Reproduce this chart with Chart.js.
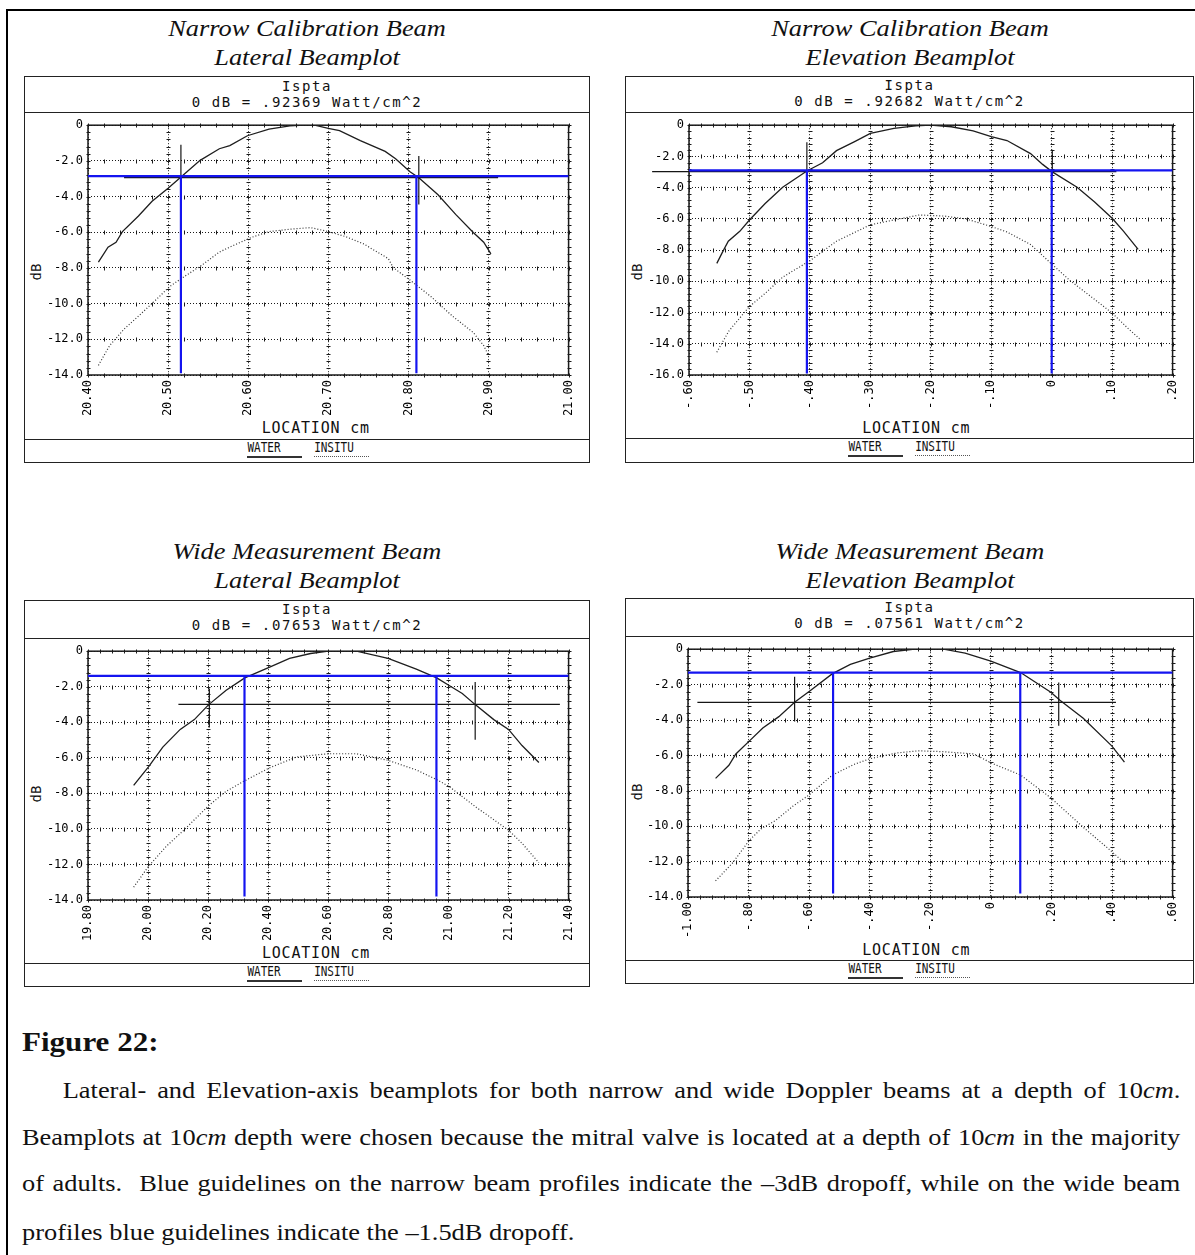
<!DOCTYPE html>
<html lang="en">
<head>
<meta charset="UTF-8">
<title>Figure 22 - Beamplots</title>
<script src="https://cdn.jsdelivr.net/npm/chart.js@4"></script>
<style>
  body { margin: 0; width: 1195px; height: 1255px; background: #fff; position: relative; overflow: hidden;
         font-family: "Liberation Serif", "Times New Roman", serif; color: #111; }
  .frame { position: absolute; left: 6px; top: 9px; width: 1300px; height: 1300px;
           border-left: 2px solid #000; border-top: 2px solid #000; }
  .ptitle { position: absolute; width: 420px; text-align: center; font-style: italic; font-size: 24px; line-height: 29px;
            transform: scaleX(1.1); }
  .box { position: absolute; border: 1.5px solid #222; box-sizing: border-box; }
  .rule { position: absolute; height: 0; border-top: 1.5px solid #222; }
  .mono { position: absolute; font-family: "DejaVu Sans Mono", monospace; white-space: nowrap; text-align: center; }
  .hdr { font-size: 14px; letter-spacing: 1.6px; line-height: 16px; }
  .loc { font-size: 15px; letter-spacing: 0.8px; line-height: 18px; }
  .db { font-size: 14px; line-height: 16px; transform: rotate(-90deg); }
  .leg { font-size: 11px; line-height: 14px; transform: scaleY(1.3); }
  .uline { position: absolute; height: 0; }
  canvas { position: absolute; }
  .cap { position: absolute; left: 22px; width: 1053px; font-size: 24px; line-height: 30px;
         text-align: justify; text-align-last: justify; transform: scaleX(1.1); transform-origin: 0 0; }
  .cap.last { text-align: left; text-align-last: left; }
  .fig { position: absolute; left: 22px; font-weight: bold; font-size: 27px; line-height: 30px;
         transform: scaleX(1.15); transform-origin: 0 0; }
</style>
</head>
<body>
<div class="frame"></div>
<script>
// ---- Narrow beam, lateral ----
const latNarrowWaterX = [20.413, 20.425, 20.435, 20.443, 20.463, 20.480, 20.500, 20.515, 20.540, 20.564, 20.577, 20.599, 20.626, 20.652, 20.670, 20.683, 20.700, 20.714, 20.740, 20.771, 20.784, 20.802, 20.813, 20.837, 20.859, 20.881, 20.894, 20.903];
const latNarrowWaterY = [-7.67, -6.84, -6.56, -5.96, -5.09, -4.26, -3.53, -2.94, -1.97, -1.32, -1.14, -0.59, -0.22, -0.04, 0, 0, -0.18, -0.31, -0.86, -1.47, -1.88, -2.61, -2.94, -3.90, -5.00, -6.01, -6.56, -7.21];
const latNarrowInsituX = [20.413, 20.427, 20.445, 20.463, 20.485, 20.502, 20.520, 20.542, 20.564, 20.581, 20.604, 20.626, 20.652, 20.678, 20.700, 20.722, 20.744, 20.775, 20.781, 20.802, 20.828, 20.855, 20.881, 20.894, 20.900];
const latNarrowInsituY = [-13.46, -12.35, -11.43, -10.70, -9.78, -9.04, -8.49, -7.85, -7.11, -6.75, -6.29, -5.96, -5.83, -5.74, -5.96, -6.25, -6.65, -7.48, -7.98, -8.68, -9.60, -10.70, -11.62, -12.35, -12.90];
const latNarrowTicks = [20.4, 20.5, 20.6, 20.7, 20.8, 20.9, 21.0];
const latNarrowLabels = ['20.40', '20.50', '20.60', '20.70', '20.80', '20.90', '21.00'];
const latNarrowBlue = { level: -2.85, cuts: [20.516, 20.810], bottom: -13.9 };
const latNarrowBlack = { level: -2.94, from: 20.445, to: 20.912, marks: [[20.516, -1.10, -2.94], [20.813, -1.73, -4.45]] };

// ---- Narrow beam, elevation ----
const elevNarrowWaterX = [-0.554, -0.545, -0.535, -0.516, -0.500, -0.474, -0.445, -0.405, -0.379, -0.356, -0.326, -0.300, -0.261, -0.225, -0.200, -0.166, -0.130, -0.100, -0.074, -0.035, -0.015, 0.001, 0.042, 0.071, 0.100, 0.119, 0.143];
const elevNarrowWaterY = [-8.85, -8.16, -7.43, -6.80, -6.07, -5.02, -3.97, -2.93, -2.41, -1.63, -1.05, -0.52, -0.21, -0.04, 0, -0.10, -0.36, -0.73, -0.98, -1.82, -2.51, -2.99, -3.97, -4.92, -5.96, -6.80, -7.95];
const elevNarrowInsituX = [-0.554, -0.534, -0.500, -0.474, -0.445, -0.400, -0.356, -0.300, -0.261, -0.219, -0.178, -0.142, -0.100, -0.074, -0.035, 0.000, 0.030, 0.065, 0.100, 0.125, 0.146];
const elevNarrowInsituY = [-14.54, -13.18, -11.61, -10.77, -9.73, -8.68, -7.43, -6.38, -6.07, -5.75, -5.82, -6.00, -6.49, -6.84, -7.64, -8.89, -9.94, -10.98, -12.03, -12.97, -13.70];
const elevNarrowTicks = [-0.6, -0.5, -0.4, -0.3, -0.2, -0.1, 0, 0.1, 0.2];
const elevNarrowLabels = ['-.60', '-.50', '-.40', '-.30', '-.20', '-.10', '0', '.10', '.20'];
const elevNarrowBlue = { level: -2.89, cuts: [-0.405, 0.0], bottom: -15.9 };
const elevNarrowBlack = { level: -2.97, from: -0.661, to: 0.107, marks: [[-0.405, -1.09, -2.93], [0.001, -1.57, -3.24]] };

// ---- Wide beam, lateral ----
const latWideWaterX = [19.952, 20.002, 20.049, 20.107, 20.154, 20.201, 20.260, 20.322, 20.401, 20.471, 20.541, 20.600, 20.694, 20.799, 20.893, 20.961, 21.001, 21.046, 21.090, 21.151, 21.200, 21.245, 21.301];
const latWideWaterY = [-7.55, -6.50, -5.40, -4.40, -3.85, -3.02, -2.20, -1.50, -0.92, -0.40, -0.13, 0, 0, -0.40, -1.01, -1.50, -1.92, -2.38, -3.02, -3.85, -4.40, -5.31, -6.26];
const latWideInsituX = [19.952, 20.002, 20.060, 20.119, 20.201, 20.260, 20.322, 20.401, 20.494, 20.600, 20.694, 20.799, 20.893, 20.961, 21.001, 21.093, 21.200, 21.245, 21.301];
const latWideInsituY = [-13.28, -12.09, -10.99, -10.07, -8.70, -7.88, -7.29, -6.59, -5.95, -5.77, -5.77, -6.14, -6.68, -7.23, -7.60, -8.79, -10.07, -10.81, -11.90];
const latWideTicks = [19.8, 20.0, 20.2, 20.4, 20.6, 20.8, 21.0, 21.2, 21.4];
const latWideLabels = ['19.80', '20.00', '20.20', '20.40', '20.60', '20.80', '21.00', '21.20', '21.40'];
const latWideBlue = { level: -1.39, cuts: [20.321, 20.960], bottom: -13.8 };
const latWideBlack = { level: -2.99, from: 20.101, to: 21.371, marks: [[20.204, -2.10, -4.30], [21.089, -1.74, -4.98]] };

// ---- Wide beam, elevation ----
const elevWideWaterX = [-0.909, -0.865, -0.842, -0.797, -0.753, -0.700, -0.647, -0.599, -0.523, -0.464, -0.400, -0.322, -0.251, -0.156, -0.085, 0.000, 0.098, 0.198, 0.228, 0.305, 0.399, 0.441];
const elevWideWaterY = [-7.30, -6.56, -5.92, -5.18, -4.45, -3.81, -2.98, -2.37, -1.38, -0.86, -0.50, -0.13, 0, 0, -0.22, -0.68, -1.32, -2.43, -2.89, -3.90, -5.46, -6.38];
const elevWideInsituX = [-0.909, -0.853, -0.797, -0.759, -0.712, -0.653, -0.599, -0.523, -0.452, -0.400, -0.310, -0.239, -0.156, -0.056, 0.000, 0.098, 0.198, 0.305, 0.399, 0.446];
const elevWideInsituY = [-13.09, -12.08, -10.79, -10.15, -9.69, -8.86, -8.22, -7.11, -6.51, -6.19, -5.86, -5.74, -5.79, -5.92, -6.42, -7.11, -8.40, -10.06, -11.43, -12.17];
const elevWideTicks = [-1.0, -0.8, -0.6, -0.4, -0.2, 0, 0.2, 0.4, 0.6];
const elevWideLabels = ['-1.00', '-.80', '-.60', '-.40', '-.20', '0', '.20', '.40', '.60'];
const elevWideBlue = { level: -1.32, cuts: [-0.521, 0.097], bottom: -13.8 };
const elevWideBlack = { level: -3.0, from: -0.969, to: 0.413, marks: [[-0.648, -1.56, -4.08], [0.224, -1.88, -4.32]] };

// dB axis ticks
const dbTicks14 = [-14, -12, -10, -8, -6, -4, -2, 0];
const dbLabels14 = ['-14.0', '-12.0', '-10.0', '-8.0', '-6.0', '-4.0', '-2.0', '0'];
const dbTicks16 = [-16, -14, -12, -10, -8, -6, -4, -2, 0];
const dbLabels16 = ['-16.0', '-14.0', '-12.0', '-10.0', '-8.0', '-6.0', '-4.0', '-2.0', '0'];

const titles = [
  ['Narrow Calibration Beam', 'Lateral Beamplot'],
  ['Narrow Calibration Beam', 'Elevation Beamplot'],
  ['Wide Measurement Beam', 'Lateral Beamplot'],
  ['Wide Measurement Beam', 'Elevation Beamplot']
];
const refLevels = ['.92369', '.92682', '.07653', '.07561'];

// page geometry (px)
const layouts = [
  { box: [24, 76, 590, 463], hdr: 112, leg: 439, plot: [88, 121, 583.5, 375], tY: 28, hY: 86, locY: 428, dbY: 272 },
  { box: [625, 76, 1194, 463], hdr: 112, leg: 438, plot: [689, 120, 1183.5, 375], tY: 28, hY: 85, locY: 428, dbY: 272 },
  { box: [24, 600, 590, 987], hdr: 638, leg: 963, plot: [88, 645, 584, 900], tY: 551, hY: 609, locY: 953, dbY: 794 },
  { box: [625, 598, 1194, 984], hdr: 636, leg: 960, plot: [688, 643, 1184.5, 897], tY: 551, hY: 607, locY: 950, dbY: 792 }
];

function put(cls, css, html) {
  const el = document.createElement('div');
  el.className = cls;
  Object.assign(el.style, css);
  if (html !== undefined) el.innerHTML = html;
  document.body.appendChild(el);
  return el;
}

const pts = (xs, ys) => xs.map((x, i) => ({ x: x, y: ys[i] }));
const seg = (x1, y1, x2, y2) => [{ x: x1, y: y1 }, { x: x2, y: y2 }];

// dotted grid gets little cross marks, plus a solid frame
const gridMarks = {
  id: 'gridMarks',
  beforeDatasetsDraw(chart) {
    const { ctx, chartArea: a, scales: { x, y } } = chart;
    const xs = x.ticks.map(t => t.value), ys = y.ticks.map(t => t.value);
    const dx = (xs[1] - xs[0]) / 5, dy = (ys[1] - ys[0]) / 5;
    ctx.save();
    ctx.strokeStyle = '#1a1a1a';
    ctx.lineWidth = 1;
    ctx.beginPath();
    ys.forEach(v => {
      const py = Math.round(y.getPixelForValue(v)) + 0.5;
      for (let k = 0; k <= (xs.length - 1) * 5; k++) {
        const px = Math.round(x.getPixelForValue(xs[0] + k * dx)) + 0.5;
        ctx.moveTo(px, py - 2); ctx.lineTo(px, py + 2);
      }
    });
    xs.forEach(v => {
      const px = Math.round(x.getPixelForValue(v)) + 0.5;
      for (let k = 0; k <= (ys.length - 1) * 5; k++) {
        const py = Math.round(y.getPixelForValue(ys[0] + k * dy)) + 0.5;
        ctx.moveTo(px - 2, py); ctx.lineTo(px + 2, py);
      }
    });
    ctx.stroke();
    ctx.lineWidth = 1.5;
    ctx.strokeRect(a.left, a.top, a.right - a.left, a.bottom - a.top);
    ctx.restore();
  }
};

function makePanel(n, p) {
  const L = layouts[n];
  const [bl, bt, br, bb] = L.box;
  const [pl, pt, pr, pb] = L.plot;
  const mid = (bl + br) / 2;

  put('ptitle', { left: (mid - 210) + 'px', top: (L.tY - 14) + 'px' }, titles[n][0] + '<br>' + titles[n][1]);
  put('box', { left: bl + 'px', top: bt + 'px', width: (br - bl) + 'px', height: (bb - bt) + 'px' });
  put('rule', { left: bl + 'px', top: L.hdr + 'px', width: (br - bl) + 'px' });
  put('rule', { left: bl + 'px', top: L.leg + 'px', width: (br - bl) + 'px' });
  put('mono hdr', { left: (mid - 200) + 'px', width: '400px', top: (L.hY - 8) + 'px' },
      'Ispta<br>0 dB = ' + refLevels[n] + ' Watt/cm^2');
  put('mono loc', { left: ((pl + pr) / 2 - 20 - 100) + 'px', width: '200px', top: (L.locY - 9) + 'px' }, 'LOCATION cm');
  put('mono db', { left: (bl + 12 - 15) + 'px', width: '30px', top: (L.dbY - 8) + 'px' }, 'dB');
  put('mono leg', { left: (bl + 240 - 25) + 'px', width: '50px', top: (L.leg + 2) + 'px' }, 'WATER');
  put('mono leg', { left: (bl + 310 - 25) + 'px', width: '50px', top: (L.leg + 2) + 'px' }, 'INSITU');
  put('uline', { left: (bl + 223) + 'px', width: '55px', top: (L.leg + 17) + 'px', borderTop: '2px solid #333' });
  put('uline', { left: (bl + 290) + 'px', width: '55px', top: (L.leg + 17) + 'px', borderTop: '1.5px dotted #555' });

  const cl = bl + 2, cr = br - 2, ct = L.hdr + 1, cb = L.leg - 1;
  const cv = document.createElement('canvas');
  cv.width = cr - cl; cv.height = cb - ct;
  Object.assign(cv.style, { left: cl + 'px', top: ct + 'px' });
  document.body.appendChild(cv);

  const xmin = p.xTicks[0], xmax = p.xTicks[p.xTicks.length - 1];
  const ymin = p.yTicks[0];
  const blue = { borderColor: '#1414f0', borderWidth: 2.2, showLine: true, pointRadius: 0 };
  const black = { borderColor: '#151515', borderWidth: 1.2, showLine: true, pointRadius: 0 };

  const datasets = [
    Object.assign({ label: 'guide', data: seg(xmin, p.blue.level, xmax, p.blue.level) }, blue),
    Object.assign({ label: 'guide', data: seg(p.blue.cuts[0], p.blue.level, p.blue.cuts[0], p.blue.bottom) }, blue),
    Object.assign({ label: 'guide', data: seg(p.blue.cuts[1], p.blue.level, p.blue.cuts[1], p.blue.bottom) }, blue),
    Object.assign({ label: 'mark', data: seg(p.black.from, p.black.level, p.black.to, p.black.level), clip: false }, black),
    Object.assign({ label: 'mark', data: seg(p.black.marks[0][0], p.black.marks[0][1], p.black.marks[0][0], p.black.marks[0][2]) }, black),
    Object.assign({ label: 'mark', data: seg(p.black.marks[1][0], p.black.marks[1][1], p.black.marks[1][0], p.black.marks[1][2]) }, black),
    { label: 'WATER', data: pts(p.waterX, p.waterY), showLine: true, pointRadius: 0,
      borderColor: '#1e1e1e', borderWidth: 1.3 },
    { label: 'INSITU', data: pts(p.insituX, p.insituY), showLine: true, pointRadius: 0,
      borderColor: '#333', borderWidth: 1.2, borderDash: [1, 2] }
  ];

  const tickFont = { family: 'DejaVu Sans Mono', size: 12 };
  new Chart(cv, {
    type: 'scatter',
    data: { datasets: datasets },
    options: {
      responsive: false,
      animation: false,
      layout: { padding: { top: pt - ct, right: cr - pr, left: 0, bottom: 0 } },
      plugins: { legend: { display: false }, tooltip: { enabled: false } },
      scales: {
        x: {
          type: 'linear', min: xmin, max: xmax,
          afterBuildTicks: ax => { ax.ticks = p.xTicks.map(v => ({ value: v })); },
          afterFit: ax => { ax.height = cb - pb; },
          ticks: { autoSkip: false, minRotation: 90, maxRotation: 90, padding: 5, color: '#000',
                   font: tickFont, callback: (v, i) => p.xLabels[i] },
          grid: { color: '#1a1a1a', lineWidth: 1, drawTicks: false },
          border: { display: false, dash: [1, 2] }
        },
        y: {
          type: 'linear', min: ymin, max: 0,
          afterBuildTicks: ax => { ax.ticks = p.yTicks.map(v => ({ value: v })); },
          afterFit: ax => { ax.width = pl - cl; },
          ticks: { autoSkip: false, padding: 5, color: '#000', font: tickFont,
                   callback: (v, i) => p.yLabels[i] },
          grid: { color: '#1a1a1a', lineWidth: 1, drawTicks: false },
          border: { display: false, dash: [1, 2] }
        }
      }
    },
    plugins: [gridMarks]
  });
}

makePanel(0, { waterX: latNarrowWaterX, waterY: latNarrowWaterY, insituX: latNarrowInsituX, insituY: latNarrowInsituY,
  xTicks: latNarrowTicks, xLabels: latNarrowLabels, yTicks: dbTicks14, yLabels: dbLabels14, blue: latNarrowBlue, black: latNarrowBlack });
makePanel(1, { waterX: elevNarrowWaterX, waterY: elevNarrowWaterY, insituX: elevNarrowInsituX, insituY: elevNarrowInsituY,
  xTicks: elevNarrowTicks, xLabels: elevNarrowLabels, yTicks: dbTicks16, yLabels: dbLabels16, blue: elevNarrowBlue, black: elevNarrowBlack });
makePanel(2, { waterX: latWideWaterX, waterY: latWideWaterY, insituX: latWideInsituX, insituY: latWideInsituY,
  xTicks: latWideTicks, xLabels: latWideLabels, yTicks: dbTicks14, yLabels: dbLabels14, blue: latWideBlue, black: latWideBlack });
makePanel(3, { waterX: elevWideWaterX, waterY: elevWideWaterY, insituX: elevWideInsituX, insituY: elevWideInsituY,
  xTicks: elevWideTicks, xLabels: elevWideLabels, yTicks: dbTicks14, yLabels: dbLabels14, blue: elevWideBlue, black: elevWideBlack });

// caption
put('fig', { top: '1027px' }, 'Figure 22:');
put('cap', { top: '1075px', textIndent: '37px' },
  'Lateral- and Elevation-axis beamplots for both narrow and wide Doppler beams at a depth of 10<i>cm</i>.');
put('cap', { top: '1122px' },
  'Beamplots at 10<i>cm</i> depth were chosen because the mitral valve is located at a depth of 10<i>cm</i> in the majority');
put('cap', { top: '1168px' },
  'of adults.&nbsp; Blue guidelines on the narrow beam profiles indicate the \u20133dB dropoff, while on the wide beam');
put('cap last', { top: '1217px' }, 'profiles blue guidelines indicate the \u20131.5dB dropoff.');
</script>
</body>
</html>
